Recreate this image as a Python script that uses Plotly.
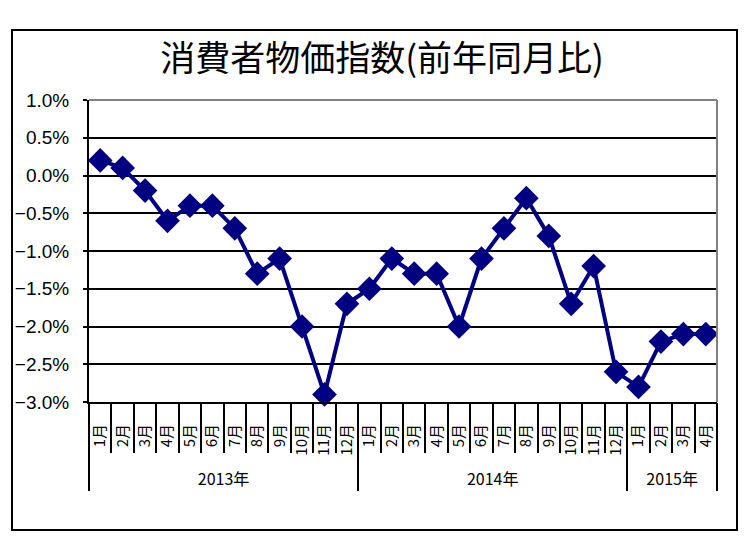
import plotly.graph_objects as go

months = [f"{m}月" for m in range(1, 13)] * 2 + [f"{m}月" for m in range(1, 5)]
year_labels = ["2013年", "2014年", "2015年"]
year_counts = [12, 12, 4]
cpi_yoy = [0.2, 0.1, -0.2, -0.6, -0.4, -0.4, -0.7, -1.3, -1.1, -2.0, -2.9, -1.7,
           -1.5, -1.1, -1.3, -1.3, -2.0, -1.1, -0.7, -0.3, -0.8, -1.7, -1.2, -2.6,
           -2.8, -2.2, -2.1, -2.1]
y_ticks = [1.0, 0.5, 0.0, -0.5, -1.0, -1.5, -2.0, -2.5, -3.0]
y_ticktext = ["1.0%", "0.5%", "0.0%", "\u22120.5%", "\u22121.0%", "\u22121.5%",
              "\u22122.0%", "\u22122.5%", "\u22123.0%"]
title_text = "消費者物価指数(前年同月比)"

font_fam = "Liberation Sans, sans-serif"
cjk = "Noto Sans CJK JP, sans-serif"
navy = "#000080"

n = len(cpi_yoy)
xs = list(range(n))
# group boundaries and centres derived from the year counts
bounds = [-0.5]
for c in year_counts:
    bounds.append(bounds[-1] + c)
centres = [(bounds[i] + bounds[i + 1]) / 2 for i in range(len(year_counts))]
xr = [-0.5, n - 0.5]

fig = go.Figure()
fig.add_trace(go.Scatter(
    x=xs, y=cpi_yoy, mode="lines+markers",
    line=dict(color=navy, width=4),
    marker=dict(symbol="diamond", size=19, color=navy),
    showlegend=False, cliponaxis=False,
))
for ax in ["x2", "x3", "x4"]:
    fig.add_trace(go.Scatter(x=xr, y=[None, None], xaxis=ax,
                             showlegend=False, hoverinfo="skip"))

# page body has an 8px margin; figure laid out in page coords minus 8
OFF = 8
W, H = 750 - OFF, 541 - OFF
L, T = 89 - OFF, 100 - OFF
R = W - (717 - OFF)
B = H - (402 - OFF)
pw, ph = W - L - R, H - T - B

common = dict(overlaying="x", side="bottom", range=xr, showgrid=False,
              zeroline=False, showline=False, automargin=False)

fig.update_layout(
    width=W, height=H,
    margin=dict(l=L, r=R, t=T, b=B),
    paper_bgcolor="white", plot_bgcolor="white",
    font=dict(family=font_fam, color="black"),
    title=dict(text=title_text, x=(382 - OFF) / W, xanchor="center",
               y=1 - (59 - OFF) / H, yanchor="middle",
               font=dict(size=35, family=cjk, color="black")),
    xaxis=dict(
        range=xr, tickvals=xs, ticktext=months, showgrid=False, zeroline=False,
        ticks="", showline=True, linecolor="black", linewidth=2,
        tickangle=-90, tickfont=dict(size=15, family=cjk),
        ticklabelstandoff=14, automargin=False,
    ),
    xaxis2=dict(
        tickvals=[i + 0.5 for i in range(n - 1)], ticks="outside", ticklen=50,
        tickwidth=2, tickcolor="black", showticklabels=False, **common,
    ),
    xaxis3=dict(
        tickvals=bounds, ticks="outside", ticklen=88,
        tickwidth=2, tickcolor="black", showticklabels=False, **common,
    ),
    xaxis4=dict(
        tickvals=centres, ticktext=year_labels, ticks="",
        ticklabelstandoff=66, tickfont=dict(size=16, family=cjk), **common,
    ),
    yaxis=dict(
        range=[-3.0, 1.0], tickvals=y_ticks, ticktext=y_ticktext,
        showgrid=True, gridcolor="black", gridwidth=2,
        zeroline=False, showline=True, linecolor="black", linewidth=2,
        ticks="outside", ticklen=4, tickwidth=2, tickcolor="black",
        ticklabelstandoff=10, automargin=False,
        tickfont=dict(size=19, family=font_fam),
    ),
    shapes=[
        dict(type="line", xref="paper", yref="paper", x0=0, x1=1, y0=1, y1=1,
             line=dict(color="#808080", width=2)),
        dict(type="line", xref="paper", yref="paper", x0=1, x1=1, y0=0, y1=1,
             line=dict(color="#808080", width=2)),
        dict(type="rect", xref="paper", yref="paper",
             x0=(12 - 89) / pw, x1=(737 - 89) / pw,
             y0=(402 - 530) / ph, y1=(402 - 30) / ph,
             line=dict(color="black", width=2), layer="below"),
    ],
)

fig.write_html("out.html")
